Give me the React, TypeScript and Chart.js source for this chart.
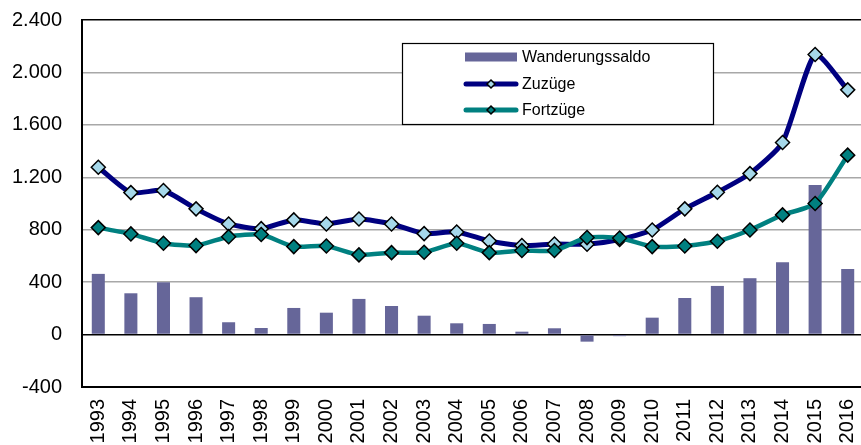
import React, { useEffect, useRef } from "react";
import { Chart, registerables } from "chart.js";

Chart.register(...registerables);

const years = ["1993","1994","1995","1996","1997","1998","1999","2000","2001","2002","2003","2004","2005","2006","2007","2008","2009","2010","2011","2012","2013","2014","2015","2016"];
const saldo = [463, 315, 399, 285, 94, 50, 203, 167, 272, 218, 144, 86, 81, 22, 48, -54, -12, 129, 279, 371, 430, 552, 1142, 501];
const zuzuege = [1277, 1083, 1099, 959, 844, 808, 875, 844, 882, 844, 770, 783, 714, 679, 691, 689, 725, 798, 959, 1086, 1228, 1465, 2137, 1867];
const fortzuege = [816, 768, 697, 679, 747, 763, 671, 676, 608, 625, 628, 697, 625, 641, 641, 740, 737, 671, 676, 712, 798, 913, 1000, 1369];
const yTicks = [-400, 0, 400, 800, 1200, 1600, 2000, 2400];

const FONT = '"Liberation Sans", Arial, sans-serif';
const BAR = "#666699";
const NAVY = "#000080";
const TEAL = "#008080";
const LIGHTBLUE = "#A6D8EA";

function fmt(v: number): string {
  const s = String(Math.abs(v));
  const out = s.length > 3 ? s.slice(0, s.length - 3) + "." + s.slice(s.length - 3) : s;
  return (v < 0 ? "-" : "") + out;
}

const legendPlugin = {
  id: "boxLegend",
  afterDraw(chart: any) {
    const ctx = chart.ctx;
    const x0 = 402, y0 = 43, x1 = 713, y1 = 124;
    ctx.save();
    ctx.fillStyle = "#fff";
    ctx.fillRect(x0, y0, x1 - x0, y1 - y0);
    ctx.strokeStyle = "#000";
    ctx.lineWidth = 1.2;
    ctx.strokeRect(x0 + 0.5, y0 + 0.5, x1 - x0, y1 - y0);
    const rows = [57, 84, 110];
    const sx0 = 463, sx1 = 519, tx = 522;
    chart.data.datasets.forEach((ds: any, i: number) => {
      const cy = rows[i];
      if (ds.type === "bar") {
        ctx.fillStyle = ds.backgroundColor;
        ctx.fillRect(sx0 + 2, cy - 4.5, sx1 - sx0 - 4, 9);
      } else {
        ctx.strokeStyle = ds.borderColor;
        ctx.lineWidth = 5;
        ctx.lineCap = "round";
        ctx.beginPath();
        ctx.moveTo(sx0 + 3, cy);
        ctx.lineTo(sx1 - 3, cy);
        ctx.stroke();
        const mx = (sx0 + sx1) / 2, r = 4;
        ctx.beginPath();
        ctx.moveTo(mx, cy - r);
        ctx.lineTo(mx + r, cy);
        ctx.lineTo(mx, cy + r);
        ctx.lineTo(mx - r, cy);
        ctx.closePath();
        ctx.fillStyle = ds.pointBackgroundColor;
        ctx.fill();
        ctx.lineWidth = 1.5;
        ctx.lineCap = "butt";
        ctx.strokeStyle = "#000";
        ctx.stroke();
      }
      ctx.fillStyle = "#000";
      ctx.font = "16px " + FONT;
      ctx.textBaseline = "middle";
      ctx.textAlign = "left";
      ctx.fillText(ds.label, tx, cy + 1);
    });
    ctx.restore();
  },
};

export default function App() {
  const ref = useRef<HTMLCanvasElement>(null);
  useEffect(() => {
    document.body.style.margin = "0";
    document.body.style.overflow = "hidden";
    const chart = new Chart(ref.current!, {
      type: "bar",
      data: {
        labels: years,
        datasets: [
          {
            type: "bar",
            label: "Wanderungssaldo",
            data: saldo,
            backgroundColor: BAR,
            borderWidth: 0,
            categoryPercentage: 1,
            barPercentage: 0.4,
            order: 3,
          } as any,
          {
            type: "line",
            label: "Zuzüge",
            data: zuzuege,
            borderColor: NAVY,
            borderWidth: 5,
            tension: 0.2,
            pointStyle: "rectRot",
            pointRadius: 7,
            pointBackgroundColor: LIGHTBLUE,
            pointBorderColor: "#000",
            pointBorderWidth: 1.5,
            order: 2,
          },
          {
            type: "line",
            label: "Fortzüge",
            data: fortzuege,
            borderColor: TEAL,
            borderWidth: 4.5,
            tension: 0.2,
            pointStyle: "rectRot",
            pointRadius: 7,
            pointBackgroundColor: TEAL,
            pointBorderColor: "#000",
            pointBorderWidth: 1.5,
            order: 1,
          },
        ],
      },
      options: {
        animation: false,
        responsive: false,
        maintainAspectRatio: false,
        layout: { padding: { top: 20, right: 11, left: 0, bottom: 0 } },
        plugins: { legend: { display: false }, tooltip: { enabled: false } },
        scales: {
          x: {
            offset: true,
            grid: { display: false, drawTicks: false },
            border: { display: true, color: "#000", width: 2 },
            ticks: {
              autoSkip: false,
              minRotation: 90,
              maxRotation: 90,
              padding: 12,
              color: "#000",
              font: { family: FONT, size: 20 },
            },
            afterFit: (s: any) => {
              s.height = 58;
              s.paddingLeft = 0;
              s.paddingRight = 0;
              s.paddingTop = 0;
              s.paddingBottom = 0;
            },
          },
          y: {
            min: -400,
            max: 2400,
            afterBuildTicks: (s: any) => {
              s.ticks = yTicks.map((v) => ({ value: v }));
            },
            grid: {
              drawTicks: false,
              color: (c: any) =>
                c.tick && (c.tick.value === 0 || c.tick.value === 2400 || c.tick.value === -400) ? "#000" : "#A8A8A8",
              lineWidth: (c: any) =>
                c.tick && (c.tick.value === 0 || c.tick.value === 2400) ? 1.6 : 1.4,
            },
            border: { display: true, color: "#000", width: 2 },
            ticks: {
              padding: 20,
              color: "#000",
              font: { family: FONT, size: 20 },
              callback: (v: any) => fmt(Number(v)),
            },
            afterFit: (s: any) => {
              s.width = 82;
              s.paddingLeft = 0;
              s.paddingRight = 0;
              s.paddingTop = 0;
              s.paddingBottom = 0;
            },
          },
        },
      },
      plugins: [legendPlugin],
    });
    return () => chart.destroy();
  }, []);
  return (
    <div style={{ position: "fixed", left: 0, top: 0, width: 861, height: 445, overflow: "hidden", background: "#fff" }}>
      <canvas ref={ref} width={875} height={445} style={{ width: 875, height: 445, display: "block" }} />
    </div>
  );
}
